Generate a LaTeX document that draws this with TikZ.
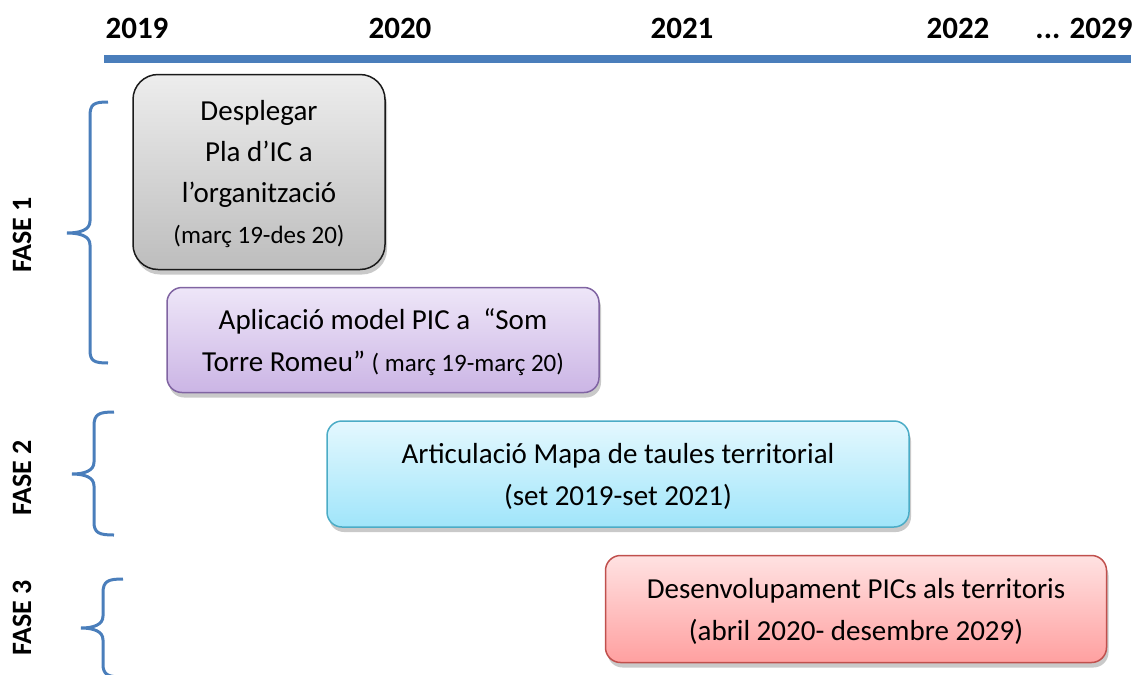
\documentclass[tikz,border=0pt]{standalone}
\usepackage{fontspec}
\setmainfont{Carlito}
\usetikzlibrary{shadows}

\definecolor{timeblue}{HTML}{4A7EBB}
\definecolor{greyline}{HTML}{1A1A1A}
\definecolor{greytop}{HTML}{EDEDED}
\definecolor{greybot}{HTML}{BDBDBD}
\definecolor{purpleline}{HTML}{8064A2}
\definecolor{purpletop}{HTML}{EEE6F8}
\definecolor{purplebot}{HTML}{CBB5E5}
\definecolor{cyanline}{HTML}{4BACC6}
\definecolor{cyantop}{HTML}{E4F8FE}
\definecolor{cyanbot}{HTML}{A0E5FA}
\definecolor{redline}{HTML}{C0504D}
\definecolor{redtop}{HTML}{FFE2E2}
\definecolor{redbot}{HTML}{FFA0A0}

\begin{document}
\begin{tikzpicture}[
        x = 1pt, y = -1pt,
        year/.style = {
            font = \fontsize{31}{36}\selectfont\bfseries,
            inner sep = 0pt
        },
        fase/.style = {
            font = \fontsize{28}{34}\selectfont\bfseries,
            rotate = 90,
            inner sep = 0pt
        },
        box/.style = {
            line width = 1.5pt,
            rounded corners = #1,
            align = center,
            inner sep = 0pt,
            text depth = 0pt,
            font = \fontsize{29}{42}\selectfont,
            drop shadow = {shadow xshift=2pt, shadow yshift=-5pt, opacity=0.3, fill=black!70}
        },
        box/.default = 15pt,
        brace/.style = {draw=timeblue, line width=3pt},
        timeline/.style = {draw=timeblue, line width=8pt}
        ]
        \useasboundingbox (0,0) rectangle (1136,675);
%
        \node[year] (y19) at (137,28) {2019};
        \node[year] (y20) at (400,28) {2020};
        \node[year] (y21) at (682,28) {2021};
        \node[year] (y22) at (958,28) {2022};
        \node[year] (y29) at (1084,28) {... 2029};
%
        \coordinate (t0) at (104,59);
        \coordinate (t1) at (1131,59);
        \draw[timeline] (t0) -- (t1);
%
        \node[fase] (f1) at (22,235) {FASE 1};
        \node[fase] (f2) at (22,478) {FASE 2};
        \node[fase] (f3) at (22,618) {FASE 3};
%
        \draw[brace] (108,102) .. controls (94,102) and (90,104) .. (90,116) -- (90,221)
                     .. controls (90,230) and (80,233) .. (67,233)
                     .. controls (80,233) and (90,236) .. (90,245) -- (90,350)
                     .. controls (90,361) and (94,363) .. (108,363);
        \draw[brace] (114,412) .. controls (99,412) and (94,414) .. (94,426) -- (94,462)
                     .. controls (94,471) and (84,474) .. (72,474)
                     .. controls (84,474) and (94,477) .. (94,486) -- (94,522)
                     .. controls (94,533) and (99,535) .. (114,535);
        \draw[brace] (123,579) .. controls (108,579) and (103,581) .. (103,593) -- (103,616)
                     .. controls (103,625) and (93,628) .. (81,628)
                     .. controls (93,628) and (103,631) .. (103,640) -- (103,664)
                     .. controls (103,675) and (108,677) .. (123,677);
%
        \node[box=25pt, draw=greyline, top color=greytop, bottom color=greybot,
              minimum width=252pt, minimum height=195pt, font=\fontsize{29}{41}\selectfont]
              (desplegar) at (259,172)
              {Desplegar\\Pla d’IC a\\l’organització\\{\fontsize{25}{41}\selectfont(març 19-des 20)}};
        \node[box, draw=purpleline, top color=purpletop, bottom color=purplebot,
              minimum width=432pt, minimum height=105pt]
              (aplicacio) at (383,340)
              {Aplicació model PIC a~~“Som\\Torre Romeu” {\fontsize{25}{42}\selectfont( març 19-març 20)}};
        \node[box, draw=cyanline, top color=cyantop, bottom color=cyanbot,
              minimum width=582pt, minimum height=106pt]
              (articulacio) at (618,474)
              {Articulació Mapa de taules territorial\\(set 2019-set 2021)};
        \node[box, draw=redline, top color=redtop, bottom color=redbot,
              minimum width=501pt, minimum height=107pt]
              (desenvolupament) at (856,609)
              {Desenvolupament PICs als territoris\\(abril 2020- desembre 2029)};
%
\end{tikzpicture}
\end{document}
